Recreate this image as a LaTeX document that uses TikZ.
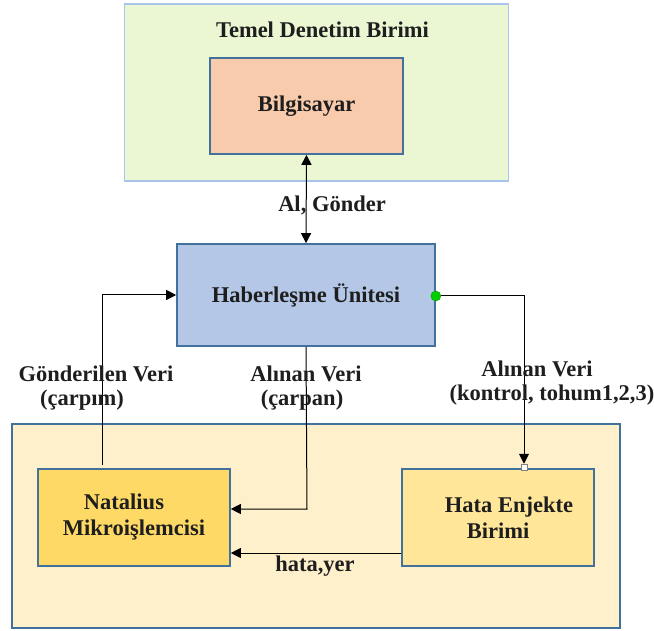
\documentclass[tikz,border=0pt]{standalone}
\usepackage{fontspec}
\setmainfont{Liberation Serif}
\usetikzlibrary{arrows.meta}
\definecolor{frameblue}{HTML}{41719C}
\definecolor{lightframe}{HTML}{A9C4EB}
\definecolor{greenfill}{HTML}{EBF7D3}
\definecolor{peach}{HTML}{F8CBAD}
\definecolor{bluefill}{HTML}{B4C7E7}
\definecolor{creamfill}{HTML}{FFF0CC}
\definecolor{goldfill}{HTML}{FFD966}
\definecolor{palegold}{HTML}{FFE699}
\definecolor{inkgray}{HTML}{1E1E1E}
\newcommand{\lblfont}{\fontsize{22.5}{26}\selectfont\bfseries}
\tikzset{
  unitbox/.style={draw=frameblue, line width=1.6pt, rectangle, inner sep=0pt, font=\lblfont, text=inkgray, align=center},
  lbl/.style={font=\lblfont, text=inkgray, inner sep=0pt},
  conn/.style={draw=black, line width=1pt},
  tip/.style={-{Triangle[length=10pt,width=10pt]}},
}
\begin{document}
\begin{tikzpicture}[x=1pt, y=-1pt]
\useasboundingbox (0,0) rectangle (654,631);
% outer groups
\node[unitbox, draw=lightframe, fill=greenfill, minimum width=384pt, minimum height=177pt] (tdb) at (316.5,92.5) {};
\node[lbl] (tdbtitle) at (322.5,30) {Temel Denetim Birimi};
\node[unitbox, fill=creamfill, minimum width=608pt, minimum height=204pt] (grp) at (316,526) {};
% units
\node[unitbox, fill=peach, minimum width=193pt, minimum height=96pt] (pc) at (306.5,106) {Bilgisayar};
\node[unitbox, fill=bluefill, minimum width=258pt, minimum height=102pt] (hab) at (306,295) {Haberleşme Ünitesi};
\node[unitbox, fill=goldfill, minimum width=192pt, minimum height=97pt] (nat) at (134,517.5) {Natalius\hspace*{20pt}\\Mikroişlemcisi};
\node[unitbox, fill=palegold, minimum width=192pt, minimum height=97pt] (hata) at (498,517.5) {\hspace*{22pt}Hata Enjekte\\Birimi};
% port markers
\node[circle, fill=green!80!black, draw=green!60!black, line width=0.4pt, minimum size=10pt, inner sep=0pt] (gport) at (hab.east |- 0,296) {};
\node[rectangle, fill=white, draw=gray, line width=0.5pt, minimum size=6pt, inner sep=0pt] (wport) at (524,467) {};
% helper points
\coordinate (sendstart) at (102,465);
\coordinate (sendbend) at (102,295);
\coordinate (rxbend) at (307,509);
\coordinate (rxin) at (nat.east |- rxbend);
\coordinate (errout) at (hata.west |- 0,553);
\coordinate (errin) at (nat.east |- 0,553);
% connectors
\draw[conn, {Triangle[length=10pt,width=10pt]}-{Triangle[length=10pt,width=10pt]}] (pc.south) -- (hab.north);
\draw[conn, tip] (sendstart) -- (sendbend) -- (hab.west |- sendbend);
\draw[conn, tip] (hab.south) -- (rxbend) -- (rxin);
\draw[conn, tip] (gport.east) -| (wport.north);
\draw[conn, tip] (errout) -- (errin);
% labels
\node[lbl] (lalg) at (332,205) {Al, Gönder};
\node[lbl] (lsend1) at (96,374) {Gönderilen Veri};
\node[lbl] (lsend2) at (82,400) {(çarpım)};
\node[lbl] (lrx1) at (306,374) {Alınan Veri};
\node[lbl] (lrx2) at (302,400) {(çarpan)};
\node[lbl] (lctl1) at (537,369) {Alınan Veri};
\node[lbl] (lctl2) at (552,395) {(kontrol, tohum1,2,3)};
\node[lbl] (lerr) at (315,566) {hata,yer};
\end{tikzpicture}
\end{document}
